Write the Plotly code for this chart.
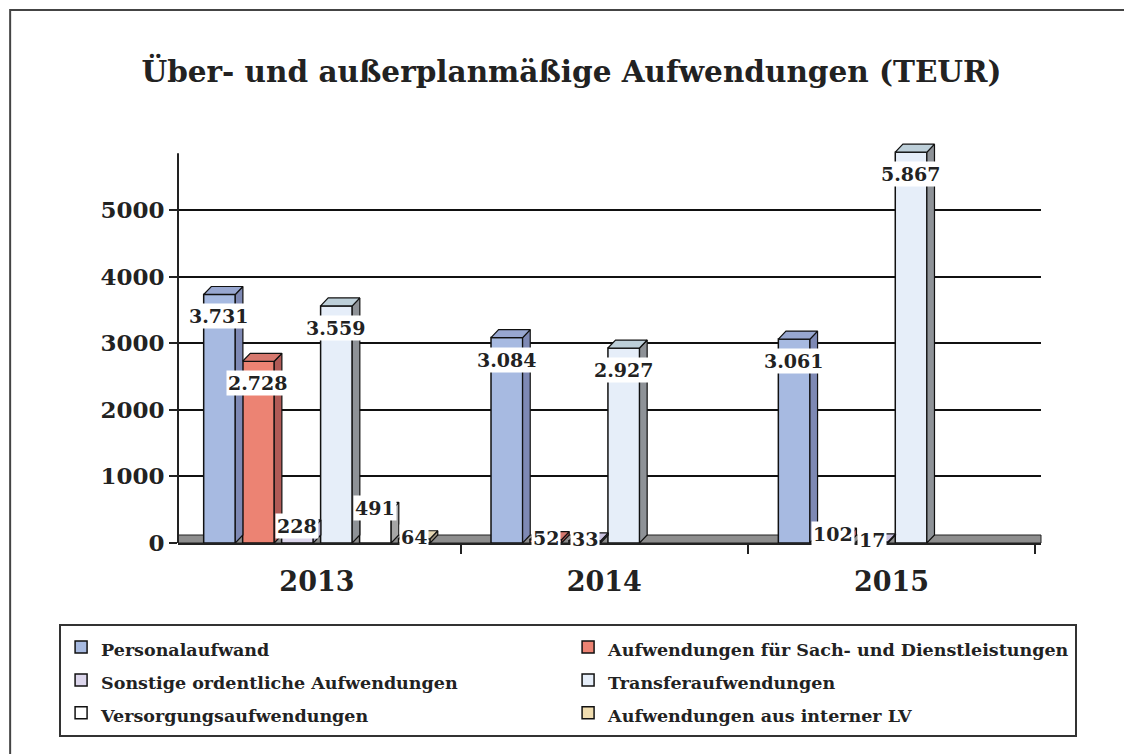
import plotly.graph_objects as go

# ---------------- data ----------------
years = ["2013", "2014", "2015"]
series_names = [
    "Personalaufwand",
    "Aufwendungen für Sach- und Dienstleistungen",
    "Sonstige ordentliche Aufwendungen",
    "Transferaufwendungen",
    "Versorgungsaufwendungen",
    "Aufwendungen aus interner LV",
]
personal = [3731, 3084, 3061]
sach = [2728, 52, 102]
sonstige = [228, 33, 17]
transfer = [3559, 2927, 5867]
versorgung = [491, None, None]
interne_lv = [64, None, None]
values = [personal, sach, sonstige, transfer, versorgung, interne_lv]
y_ticks = [0, 1000, 2000, 3000, 4000, 5000]

# ---------------- styles ----------------
front_colors = ["#A7BAE1", "#EC8373", "#DCD6EC", "#E6EEF9", "#FFFFFF", "#F0DDB0"]
side_colors = ["#7E89B4", "#B05A56", "#A9A3C2", "#8E9297", "#A6A6A6", "#A39582"]
top_colors = ["#98A7D0", "#D6786E", "#C9C1DE", "#BDCFD9", "#E0E0E0", "#E6D6B2"]

FONT = "DejaVu Serif"
TXT = "#222222"

n = len(series_names)
slot = 0.13565          # slot width per series (category units)
front_w = 0.110         # front face width
dx = 0.0265             # depth offset x (category units)
dy = 120                # depth offset y (data units)
group_start = -n * slot / 2

x_idx = list(range(len(years)))

fig = go.Figure()

# front faces (real bars)
for i in range(n):
    off = group_start + i * slot + (slot - front_w) / 2
    fig.add_trace(go.Bar(
        x=x_idx, y=values[i], name=f"<span style='font-size:17.5px'>{series_names[i]}</span>",
        offset=off, width=front_w,
        marker=dict(color=front_colors[i], line=dict(color="#111111", width=1.5)),
        hoverinfo="y",
    ))

# depth faces (side + top) built from the same data
for i in range(n):
    off = group_start + i * slot + (slot - front_w) / 2
    sx, sy, tx, ty = [], [], [], []
    for c, v in zip(x_idx, values[i]):
        if v is None:
            continue
        x0 = c + off
        x1 = x0 + front_w
        sx += [x1, x1 + dx, x1 + dx, x1, x1, None]
        sy += [0, dy, v + dy, v, 0, None]
        tx += [x0, x0 + dx, x1 + dx, x1, x0, None]
        ty += [v, v + dy, v + dy, v, v, None]
    fig.add_trace(go.Scatter(x=sx, y=sy, mode="lines", fill="toself",
                             fillcolor=side_colors[i], line=dict(color="#111111", width=1.2),
                             showlegend=False, hoverinfo="skip"))
    fig.add_trace(go.Scatter(x=tx, y=ty, mode="lines", fill="toself",
                             fillcolor=top_colors[i], line=dict(color="#111111", width=1.2),
                             showlegend=False, hoverinfo="skip"))

# value labels
def de_fmt(v):
    return f"{v:,}".replace(",", ".")

annotations = []
for i in range(n):
    center = group_start + i * slot + slot / 2
    for c, v in zip(x_idx, values[i]):
        if v is None:
            continue
        big = v > 800
        annotations.append(dict(
            x=c + center, y=v, xref="x", yref="y",
            text=f"<b>{de_fmt(v)}</b>", showarrow=False,
            yanchor="top" if big else "middle",
            yshift=-9 if big else 2,
            font=dict(family=FONT, size=19, color=TXT),
            bgcolor="#FFFFFF", borderpad=1,
        ))

W, H = 1124, 746   # page body adds an 8px offset
fig.update_layout(
    width=W, height=H,
    margin=dict(l=170, r=90.5, t=132, b=211),
    paper_bgcolor="#FFFFFF", plot_bgcolor="#FFFFFF",
    barmode="group",
    title=dict(text="<b>Über- und außerplanmäßige Aufwendungen (TEUR)</b>",
               x=563.5 / W, xref="container", xanchor="center",
               y=1 - 64 / H, yref="container", yanchor="middle",
               font=dict(family=FONT, size=29.5, color=TXT)),
    font=dict(family=FONT, color=TXT),
    showlegend=True,
    legend=dict(orientation="h", x=-0.1378, y=-0.2, xanchor="left", yanchor="top",
                xref="paper", yref="paper",
                entrywidth=462, entrywidthmode="pixels",
                font=dict(family=FONT, size=23, color=TXT, weight="bold"),
                bgcolor="#FFFFFF", bordercolor="#333333", borderwidth=2,
                traceorder="normal"),
    annotations=annotations,
    shapes=[
        # floor
        dict(type="rect", xref="paper", yref="y", x0=0, x1=1, y0=0, y1=dy,
             fillcolor="#8E8E8E", line=dict(color="#222222", width=1), layer="between"),
        # y axis line
        dict(type="line", xref="paper", yref="y", x0=0, x1=0, y0=0, y1=5850,
             line=dict(color="#222222", width=2)),
        # outer chart frame
        dict(type="rect", xref="paper", yref="paper", x0=-0.1945, x1=1.12, y0=-0.56, y1=1.3226,
             line=dict(color="#444444", width=2), fillcolor="rgba(0,0,0,0)"),
    ],
)

fig.update_xaxes(
    range=[-0.4835, 2.52],
    tickmode="array", tickvals=x_idx, ticktext=years,
    ticks="", showgrid=False, zeroline=False,
    showline=True, linecolor="#222222", linewidth=2,
    tickfont=dict(family=FONT, size=27, color=TXT, weight="bold"),
    ticklabelstandoff=14,
    minor=dict(tickmode="linear", tick0=0.5, dtick=1, ticks="outside",
               ticklen=9, tickwidth=2, tickcolor="#222222", showgrid=False),
)
fig.update_yaxes(
    range=[0, 6050],
    tickmode="array", tickvals=y_ticks, ticktext=[str(t) for t in y_ticks],
    showgrid=True, gridcolor="#111111", gridwidth=2,
    zeroline=False, showline=False,
    ticks="outside", ticklen=8, tickwidth=2, tickcolor="#222222",
    tickfont=dict(family=FONT, size=23, color=TXT, weight="bold"),
)

fig.write_html("out.html")
